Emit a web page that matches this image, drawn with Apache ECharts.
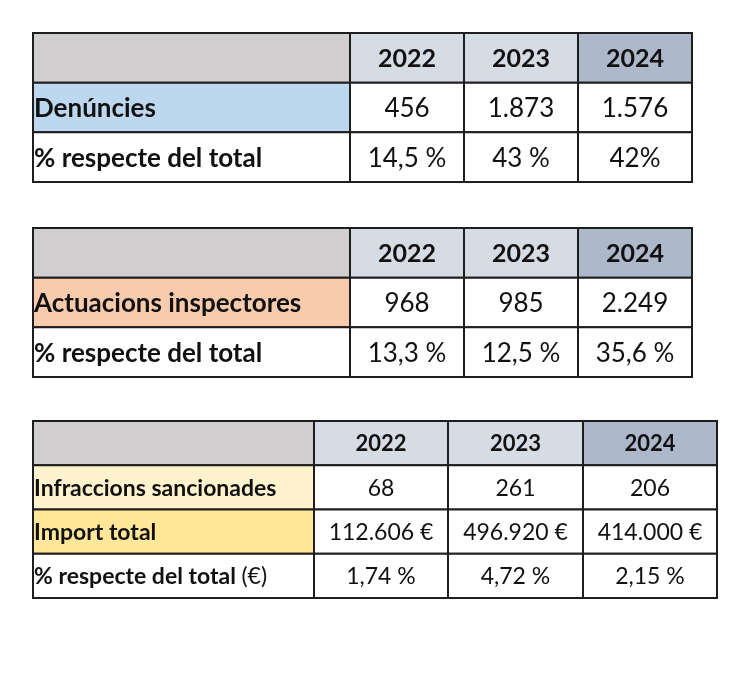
<!DOCTYPE html>
<html><head><meta charset="utf-8">
<script src="https://cdn.jsdelivr.net/npm/echarts@6/dist/echarts.min.js"></script>
<style>html,body{margin:0;padding:0;background:#fff}#c{width:750px;height:679px}</style>
</head><body><div id="c"></div>
<script>
// ---- data ----
const years = ['2022', '2023', '2024'];

const t1Labels = ['Denúncies', '% respecte del total'];
const t1Values = [['456', '1.873', '1.576'], ['14,5 %', '43 %', '42%']];

const t2Labels = ['Actuacions inspectores', '% respecte del total'];
const t2Values = [['968', '985', '2.249'], ['13,3 %', '12,5 %', '35,6 %']];

const t3Labels = ['Infraccions sancionades', 'Import total', '% respecte del total {n|(€)}'];
const t3Values = [['68', '261', '206'], ['112.606 €', '496.920 €', '414.000 €'], ['1,74 %', '4,72 %', '2,15 %']];

// ---- layout / style ----
const FONT = 'Lato, "Open Sans", sans-serif';
const headFill = ['#d0cece', '#d6dce4', '#d6dce4', '#adb9ca'];
const tables = [
  { labels: t1Labels, values: t1Values, labelFills: ['#bdd7ee', '#ffffff'], widths: [317, 114, 114, 114],
    grid: { left: 33, top: 33, width: 659, height: 149 }, fs: 26, hfs: 25 },
  { labels: t2Labels, values: t2Values, labelFills: ['#f8cbad', '#ffffff'], widths: [317, 114, 114, 114],
    grid: { left: 33, top: 228, width: 659, height: 149 }, fs: 26, hfs: 25 },
  { labels: t3Labels, values: t3Values, labelFills: ['#fff2cc', '#ffe699', '#ffffff'], widths: [281, 134, 135, 134],
    grid: { left: 33, top: 421, width: 684, height: 177 }, fs: 23, hfs: 22 }
];

const grids = [], xAxes = [], yAxes = [], series = [];
tables.forEach((t, ti) => {
  const nRows = t.labels.length + 1;
  const cum = [0];
  t.widths.forEach(w => cum.push(cum[cum.length - 1] + w));
  grids.push(t.grid);
  xAxes.push({ type: 'value', gridIndex: ti, min: 0, max: cum[cum.length - 1], show: false });
  yAxes.push({ type: 'category', gridIndex: ti, inverse: true, show: false,
    data: Array.from({ length: nRows }, (_, i) => String(i)) });
  const data = [];
  data.push({ value: [0, 0], text: '', fill: headFill[0], bold: true, align: 'left', fs: t.hfs });
  years.forEach((y, j) => data.push({ value: [j + 1, 0], text: y, fill: headFill[j + 1], bold: true, align: 'center', fs: t.hfs }));
  t.labels.forEach((lab, i) => {
    data.push({ value: [0, i + 1], text: lab, fill: t.labelFills[i], bold: true, align: 'left', fs: t.fs });
    t.values[i].forEach((v, j) => data.push({ value: [j + 1, i + 1], text: v, fill: '#ffffff', bold: false, align: 'center', fs: t.fs }));
  });
  series.push({
    type: 'custom', xAxisIndex: ti, yAxisIndex: ti, clip: false, silent: true,
    data: data,
    renderItem: function (params, api) {
      const c = api.value(0), r = api.value(1);
      const d = data[params.dataIndex];
      const pL = api.coord([cum[c], r]);
      const pR = api.coord([cum[c + 1], r]);
      const h = api.size([0, 1])[1];
      const x0 = pL[0], x1 = pR[0], y0 = pL[1] - h / 2;
      return {
        type: 'group',
        children: [
          { type: 'rect', shape: { x: x0, y: y0, width: x1 - x0, height: h },
            style: { fill: d.fill, stroke: '#1e1e1e', lineWidth: 2 } },
          { type: 'text',
            style: { text: d.text, x: d.align === 'left' ? x0 + 1 : (x0 + x1) / 2, y: pL[1] + 1,
              align: d.align, verticalAlign: 'middle', fontFamily: FONT, fontSize: d.fs,
              fontWeight: d.bold ? 'bold' : 'normal', fill: '#111111',
              rich: { n: { fontFamily: FONT, fontSize: d.fs, fontWeight: 'normal', fill: '#111111' } } } }
        ]
      };
    }
  });
});

const chart = echarts.init(document.getElementById('c'), null, { renderer: 'canvas' });
chart.setOption({ animation: false, grid: grids, xAxis: xAxes, yAxis: yAxes, series: series });
</script>
</body></html>
